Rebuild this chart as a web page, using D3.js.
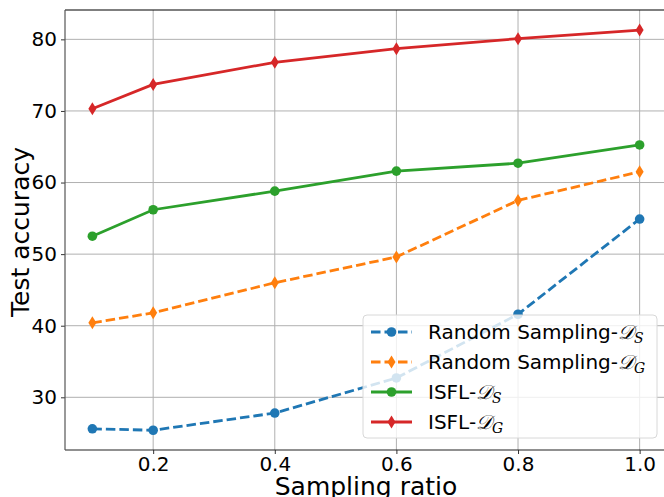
<!DOCTYPE html>
<html lang="en">
<head>
  <meta charset="UTF-8">
  <title>Test accuracy vs sampling ratio</title>
  <script src="https://d3js.org/d3.v7.min.js"></script>
  <style>
    body { margin: 0; background: #fff; }
    text { font-family: "DejaVu Sans", sans-serif; }
  </style>
</head>
<body>
  <div id="chart"></div>

  <script>
    // Data
    const ratios = [0.1, 0.2, 0.4, 0.6, 0.8, 1.0];
    const randomS = [25.6, 25.4, 27.8, 32.7, 41.6, 54.9];
    const randomG = [40.4, 41.8, 46.0, 49.6, 57.5, 61.5];
    const isflS = [52.5, 56.2, 58.8, 61.6, 62.7, 65.25];
    const isflG = [70.3, 73.7, 76.8, 78.7, 80.1, 81.3];
    const xTicks = [0.2, 0.4, 0.6, 0.8, 1.0];
    const yTicks = [30, 40, 50, 60, 70, 80];

    const series = [
      { name: "Random Sampling-", sub: "S", values: randomS, color: "#1f77b4", dash: "9.5,4", marker: "circle" },
      { name: "Random Sampling-", sub: "G", values: randomG, color: "#ff7f0e", dash: "9.5,4", marker: "diamond" },
      { name: "ISFL-", sub: "S", values: isflS, color: "#2ca02c", dash: null, marker: "circle" },
      { name: "ISFL-", sub: "G", values: isflG, color: "#d62728", dash: null, marker: "diamond" }
    ];

    const W = 664, H = 497;
    const margin = { top: 10, right: -3, bottom: 47, left: 65 };
    const width = W - margin.left - margin.right;
    const height = H - margin.top - margin.bottom;

    const svg = d3.select("#chart").append("svg")
      .attr("width", W).attr("height", H);
    const g = svg.append("g")
      .attr("transform", "translate(" + margin.left + "," + margin.top + ")");

    const x = d3.scaleLinear().domain([0.055, 1.045]).range([0, width]);
    const y = d3.scaleLinear().domain([22.64, 84.1]).range([height, 0]);

    // grid
    g.append("g").selectAll("line").data(xTicks).enter().append("line")
      .attr("x1", d => x(d)).attr("x2", d => x(d))
      .attr("y1", 0).attr("y2", height)
      .attr("stroke", "#b0b0b0").attr("stroke-width", 1);
    g.append("g").selectAll("line").data(yTicks).enter().append("line")
      .attr("x1", 0).attr("x2", width)
      .attr("y1", d => y(d)).attr("y2", d => y(d))
      .attr("stroke", "#b0b0b0").attr("stroke-width", 1);

    // axes
    const xAxis = g.append("g")
      .attr("transform", "translate(0," + height + ")")
      .call(d3.axisBottom(x).tickValues(xTicks).tickFormat(d3.format(".1f")).tickSize(4).tickPadding(3));
    const yAxis = g.append("g")
      .call(d3.axisLeft(y).tickValues(yTicks).tickSize(4).tickPadding(4));
    [xAxis, yAxis].forEach(a => {
      a.selectAll("text").attr("font-size", 20).attr("fill", "#000")
        .style("font-family", "DejaVu Sans, sans-serif");
      a.selectAll("line").attr("stroke", "#333");
      a.select(".domain").remove();
    });
    // spines
    g.append("line").attr("x1", 0).attr("x2", width).attr("y1", 0).attr("y2", 0)
      .attr("stroke", "#000").attr("stroke-width", 1.2);
    g.append("line").attr("x1", 0).attr("x2", width).attr("y1", height).attr("y2", height)
      .attr("stroke", "#222").attr("stroke-width", 1.2);
    g.append("line").attr("x1", 0).attr("x2", 0).attr("y1", 0).attr("y2", height)
      .attr("stroke", "#555").attr("stroke-width", 1.2);

    // lines and markers
    const line = d3.line().x((d, i) => x(ratios[i])).y(d => y(d));
    const diamond = "M0,-6.5L4,0L0,6.5L-4,0Z";

    function drawMarker(sel, s) {
      if (s.marker === "circle") {
        sel.append("circle").attr("r", 4.8).attr("fill", s.color);
      } else {
        sel.append("path").attr("d", diamond).attr("fill", s.color);
      }
    }

    series.forEach(s => {
      g.append("path").datum(s.values)
        .attr("d", line)
        .attr("fill", "none")
        .attr("stroke", s.color)
        .attr("stroke-width", 2.8)
        .attr("stroke-dasharray", s.dash);
      g.append("g").selectAll("g").data(s.values).enter().append("g")
        .attr("transform", (d, i) => "translate(" + x(ratios[i]) + "," + y(d) + ")")
        .each(function () { drawMarker(d3.select(this), s); });
    });

    // legend
    const lg = svg.append("g").attr("transform", "translate(363,315)");
    lg.append("rect")
      .attr("width", 294).attr("height", 123)
      .attr("rx", 4)
      .attr("fill", "rgba(255,255,255,0.8)")
      .attr("stroke", "#d8d8d8").attr("stroke-width", 1);
    series.forEach((s, i) => {
      const row = lg.append("g").attr("transform", "translate(0," + (17 + i * 30) + ")");
      row.append("line")
        .attr("x1", 8).attr("x2", 49)
        .attr("stroke", s.color).attr("stroke-width", 2.8)
        .attr("stroke-dasharray", s.dash);
      drawMarker(row.append("g").attr("transform", "translate(28.5,0)"), s);
      const t = row.append("text")
        .attr("x", 65).attr("dy", "0.35em")
        .attr("font-size", 20).attr("fill", "#000");
      t.append("tspan").text(s.name);
      t.append("tspan").text("𝒟")
        .style("font-family", "DejaVu Serif, serif").style("font-style", "italic");
      t.append("tspan").text(s.sub).attr("font-size", 14).attr("dy", "0.25em")
        .style("font-style", "italic").style("font-family", "DejaVu Serif, serif");
    });

    // axis titles
    svg.append("text")
      .attr("x", margin.left + x(0.55)).attr("y", 495)
      .attr("text-anchor", "middle").attr("font-size", 25)
      .text("Sampling ratio");
    svg.append("text")
      .attr("transform", "translate(29," + (margin.top + height / 2 + 2) + ") rotate(-90)")
      .attr("text-anchor", "middle").attr("font-size", 25)
      .text("Test accuracy");
  </script>
</body>
</html>
